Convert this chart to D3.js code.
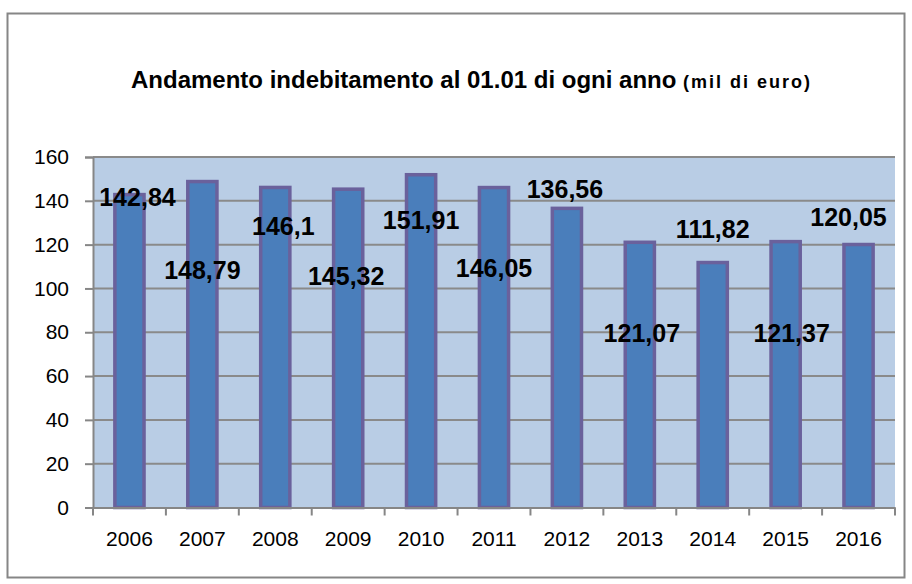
<!DOCTYPE html>
<html><head><meta charset="utf-8">
<script src="https://cdn.jsdelivr.net/npm/d3@7"></script>
<style>body{margin:0;background:#fff}svg{display:block}</style>
</head><body>
<script>
const years = ["2006","2007","2008","2009","2010","2011","2012","2013","2014","2015","2016"];
const debt = [142.84,148.79,146.1,145.32,151.91,146.05,136.56,121.07,111.82,121.37,120.05];
const valueLabels = ["142,84","148,79","146,1","145,32","151,91","146,05","136,56","121,07","111,82","121,37","120,05"];
const yTicks = [0,20,40,60,80,100,120,140,160];
// label anchor levels (in axis units) and horizontal shifts, as placed in the original
const labelLevels = [141.9,108.4,128.5,105.5,131.3,109.4,145.4,79.7,127.2,79.7,132.4];
const labelShift = [8,0,8,-2,0,0,-2,2,0,6,-10];

(function(){
const W=912,H=584;
const svg=d3.select("body").append("svg").attr("width",W).attr("height",H);
svg.append("rect").attr("x",7.5).attr("y",13.5).attr("width",897).attr("height",564)
  .attr("fill","#fff").attr("stroke","#868686").attr("stroke-width",2);

const pL=93,pR=895,pT=157,pB=507.5;
const x=d3.scaleBand().domain(years).range([pL,pR]).padding(0);
const y=d3.scaleLinear().domain([0,160]).range([pB,pT]);

svg.append("rect").attr("x",pL).attr("y",pT).attr("width",pR-pL).attr("height",pB-pT).attr("fill","#b9cde5");

svg.append("g").selectAll("line").data(yTicks.filter(d=>d>0)).join("line")
  .attr("x1",pL).attr("x2",pR).attr("y1",d=>y(d)).attr("y2",d=>y(d))
  .attr("stroke","#8a8a8a").attr("stroke-width",2);

const bw=x.bandwidth()*0.40;
svg.append("g").selectAll("rect").data(debt).join("rect")
  .attr("x",(d,i)=>x(years[i])+x.bandwidth()/2-bw/2)
  .attr("y",d=>y(d)).attr("width",bw).attr("height",d=>pB-y(d))
  .attr("fill","#4a7ebb").attr("stroke","#6a619c").attr("stroke-width",3.5);

const ya=svg.append("g").attr("transform",`translate(${pL},0)`)
  .call(d3.axisLeft(y).tickValues(yTicks).tickSize(8).tickPadding(16));
ya.select(".domain").attr("stroke","#868686").attr("stroke-width",2);
ya.selectAll(".tick line").attr("stroke","#868686").attr("stroke-width",2);
ya.selectAll(".tick text").attr("font-family","Liberation Sans, Arial, sans-serif").attr("font-size",21).attr("fill","#000");

const xa=svg.append("g").attr("transform",`translate(0,${pB})`)
  .call(d3.axisBottom(x).tickSize(0).tickPadding(24));
xa.select(".domain").attr("stroke","#868686").attr("stroke-width",2);
xa.selectAll(".tick text").attr("font-family","Liberation Sans, Arial, sans-serif").attr("font-size",21).attr("fill","#000");
const bounds=years.map(d=>x(d)).concat([pR]);
xa.append("g").selectAll("line").data(bounds).join("line")
  .attr("x1",d=>d).attr("x2",d=>d).attr("y1",0).attr("y2",8)
  .attr("stroke","#868686").attr("stroke-width",2);

svg.append("g").selectAll("text").data(valueLabels).join("text")
  .attr("x",(d,i)=>x(years[i])+x.bandwidth()/2+labelShift[i])
  .attr("y",(d,i)=>y(labelLevels[i]))
  .attr("dy","0.36em").attr("text-anchor","middle")
  .attr("font-family","Liberation Sans, Arial, sans-serif").attr("font-weight","bold")
  .attr("font-size",25).attr("fill","#000").text(d=>d);

const t=svg.append("text").attr("x",131).attr("y",88)
  .attr("font-family","Liberation Sans, Arial, sans-serif").attr("font-weight","bold").attr("fill","#000");
t.append("tspan").attr("font-size",24).text("Andamento indebitamento al 01.01 di ogni anno ");
t.append("tspan").attr("font-size",18).attr("letter-spacing",2).text("(mil di euro)");
})();
</script>
</body></html>
